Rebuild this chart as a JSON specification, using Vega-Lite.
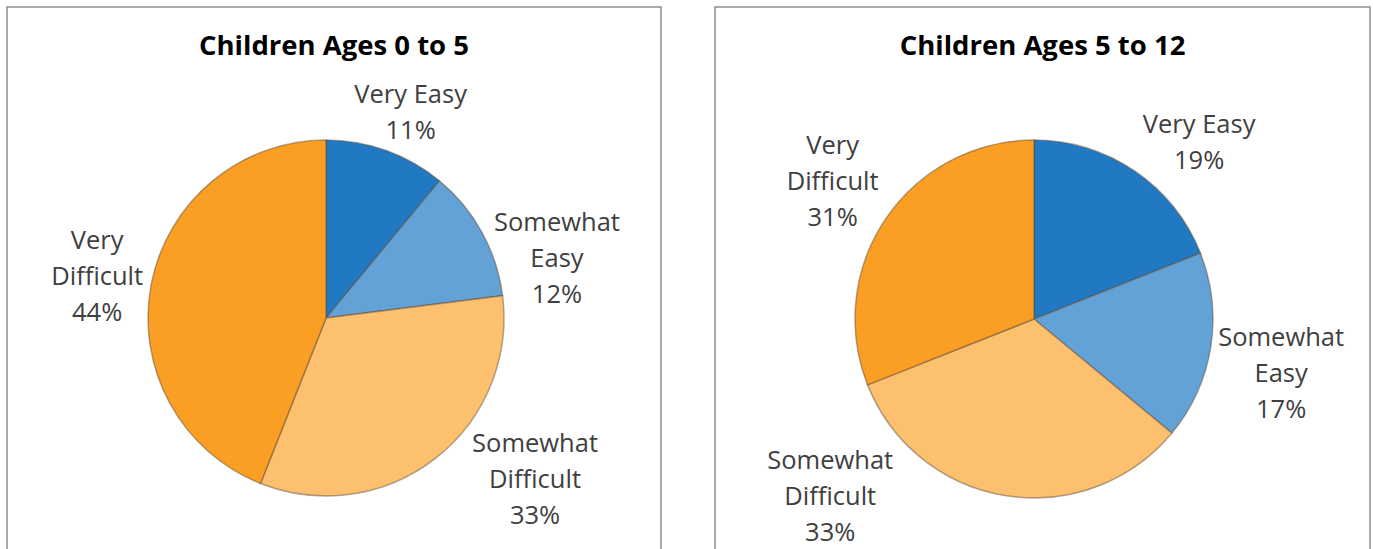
{
  "$schema": "https://vega.github.io/schema/vega-lite/v6.json",
  "padding": {"left": 6, "top": 6, "right": 0, "bottom": 0},
  "spacing": 54,
  "bounds": "flush",
  "background": "white",
  "config": {
    "view": {"stroke": "#8f8f8f", "strokeWidth": 1.5},
    "text": {"font": "Open Sans", "fontSize": 25.5, "color": "#404040", "lineHeight": 36, "align": "center", "baseline": "middle"},
    "title": {"font": "Open Sans", "fontSize": 27.5, "fontWeight": "bold", "color": "#000000", "anchor": "middle", "frame": "group", "baseline": "alphabetic", "offset": -53}
  },
  "datasets": {
    "young": [
      {"category": "Very Easy", "value": 11, "order": 1, "lines": ["Very Easy", "11%"]},
      {"category": "Somewhat Easy", "value": 12, "order": 2, "lines": ["Somewhat", "Easy", "12%"]},
      {"category": "Somewhat Difficult", "value": 33, "order": 3, "lines": ["Somewhat", "Difficult", "33%"]},
      {"category": "Very Difficult", "value": 44, "order": 4, "lines": ["Very", "Difficult", "44%"]}
    ],
    "older": [
      {"category": "Very Easy", "value": 19, "order": 1, "lines": ["Very Easy", "19%"]},
      {"category": "Somewhat Easy", "value": 17, "order": 2, "lines": ["Somewhat", "Easy", "17%"]},
      {"category": "Somewhat Difficult", "value": 33, "order": 3, "lines": ["Somewhat", "Difficult", "33%"]},
      {"category": "Very Difficult", "value": 31, "order": 4, "lines": ["Very", "Difficult", "31%"]}
    ]
  },
  "hconcat": [
    {
      "width": 654,
      "height": 622,
      "data": {"name": "young"},
      "title": {"text": "Children Ages 0 to 5"},
      "encoding": {
        "theta": {"field": "value", "type": "quantitative", "stack": true},
        "order": {"field": "order", "type": "quantitative"},
        "x": {"datum": 0, "type": "quantitative", "scale": {"domain": [-319, 335], "nice": false, "zero": false}, "axis": null}
      },
      "layer": [
        {
          "mark": {"type": "arc", "outerRadius": 178, "stroke": "#5b4630", "strokeOpacity": 0.45, "strokeWidth": 1.5},
          "encoding": {
            "color": {"field": "category", "type": "nominal", "legend": null,
              "scale": {"domain": ["Very Easy", "Somewhat Easy", "Somewhat Difficult", "Very Difficult"], "range": ["#2179c3", "#63a2d6", "#fcc06f", "#fa9e24"]}}
          }
        },
        {"mark": {"type": "text", "radius": 235, "dx": 5, "dy": -2},
         "encoding": {"text": {"condition": {"test": "datum.category === 'Very Easy'", "field": "lines"}, "value": ""}}},
        {"mark": {"type": "text", "radius": 235, "dx": 25, "dy": 18},
         "encoding": {"text": {"condition": {"test": "datum.category === 'Somewhat Easy'", "field": "lines"}, "value": ""}}},
        {"mark": {"type": "text", "radius": 235, "dx": 65, "dy": -60},
         "encoding": {"text": {"condition": {"test": "datum.category === 'Somewhat Difficult'", "field": "lines"}, "value": ""}}},
        {"mark": {"type": "text", "radius": 235, "dx": 2, "dy": -33},
         "encoding": {"text": {"condition": {"test": "datum.category === 'Very Difficult'", "field": "lines"}, "value": ""}}}
      ]
    },
    {
      "width": 655,
      "height": 624,
      "data": {"name": "older"},
      "title": {"text": "Children Ages 5 to 12"},
      "encoding": {
        "theta": {"field": "value", "type": "quantitative", "stack": true},
        "order": {"field": "order", "type": "quantitative"},
        "x": {"datum": 0, "type": "quantitative", "scale": {"domain": [-319, 336], "nice": false, "zero": false}, "axis": null}
      },
      "layer": [
        {
          "mark": {"type": "arc", "outerRadius": 179, "stroke": "#5b4630", "strokeOpacity": 0.45, "strokeWidth": 1.5},
          "encoding": {
            "color": {"field": "category", "type": "nominal", "legend": null,
              "scale": {"domain": ["Very Easy", "Somewhat Easy", "Somewhat Difficult", "Very Difficult"], "range": ["#2179c3", "#63a2d6", "#fcc06f", "#fa9e24"]}}
          }
        },
        {"mark": {"type": "text", "radius": 235, "dx": 33, "dy": 0},
         "encoding": {"text": {"condition": {"test": "datum.category === 'Very Easy'", "field": "lines"}, "value": ""}}},
        {"mark": {"type": "text", "radius": 235, "dx": 15, "dy": -18},
         "encoding": {"text": {"condition": {"test": "datum.category === 'Somewhat Easy'", "field": "lines"}, "value": ""}}},
        {"mark": {"type": "text", "radius": 235, "dx": -167, "dy": -90},
         "encoding": {"text": {"condition": {"test": "datum.category === 'Somewhat Difficult'", "field": "lines"}, "value": ""}}},
        {"mark": {"type": "text", "radius": 235, "dx": -7, "dy": -41},
         "encoding": {"text": {"condition": {"test": "datum.category === 'Very Difficult'", "field": "lines"}, "value": ""}}}
      ]
    }
  ]
}
